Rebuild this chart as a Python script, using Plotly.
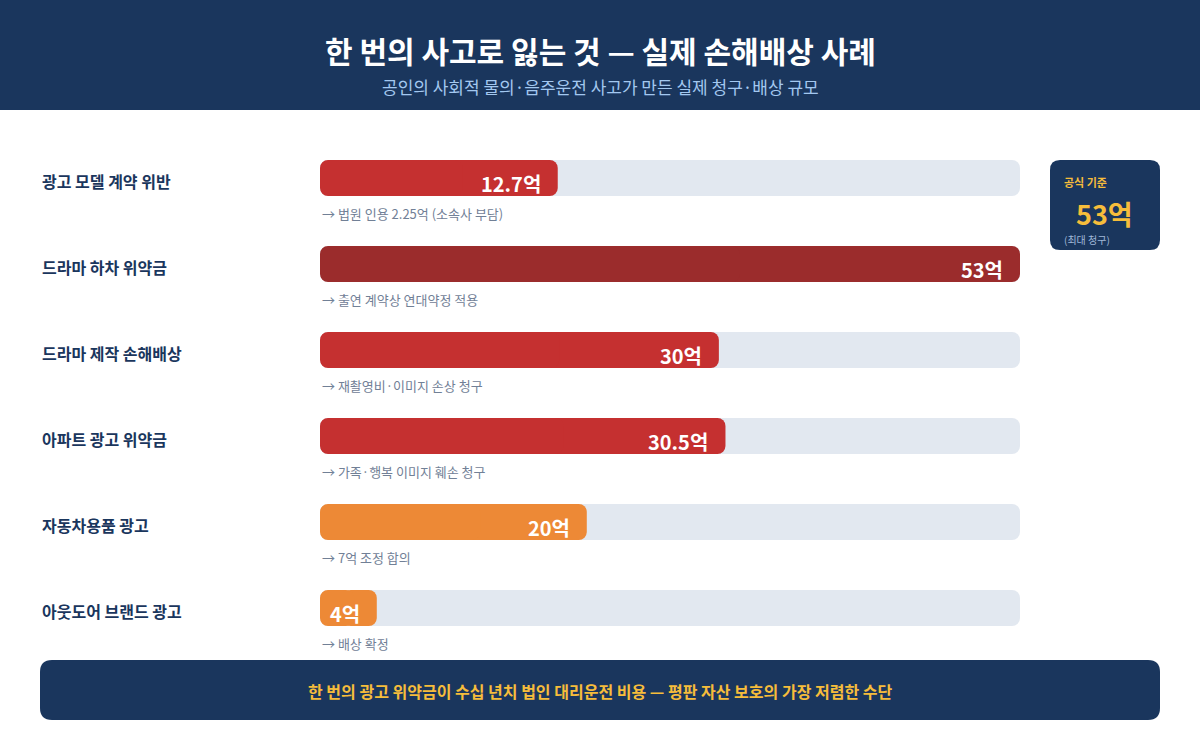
import plotly.graph_objects as go

# 데이터
categories = ["광고 모델 계약 위반", "드라마 하차 위약금", "드라마 제작 손해배상",
              "아파트 광고 위약금", "자동차용품 광고", "아웃도어 브랜드 광고"]
value_labels = ["12.7", "53", "30", "30.5", "20", "4"]
bar_lengths = [18.0, 53, 30.2, 30.7, 20.2, 4.3]   # 그림상 막대 길이 (억)
notes = ["→ 법원 인용 2.25억 (소속사 부담)", "→ 출연 계약상 연대약정 적용",
         "→ 재촬영비·이미지 손상 청구", "→ 가족·행복 이미지 훼손 청구",
         "→ 7억 조정 합의", "→ 배상 확정"]
bar_colors = ["#c53030", "#9b2c2c", "#c53030", "#c53030", "#ed8936", "#ed8936"]
max_value = 53

NAVY = "#1a365d"
GOLD = "#f6bd3b"
FONT = "Noto Sans CJK KR"
W, H = 1200, 750

rows = list(range(len(categories)))


def px(x):
    return x / W


def py(y):
    return 1 - y / H


def rounded_rect(x0, y0, x1, y1, r):
    """종이 좌표 기준 둥근 사각형 path (픽셀 입력)"""
    rx, ry = r / W, r / H
    a, b, c, d = px(x0), px(x1), py(y0), py(y1)
    return (f"M {a + rx},{c} L {b - rx},{c} Q {b},{c} {b},{c - ry} "
            f"L {b},{d + ry} Q {b},{d} {b - rx},{d} L {a + rx},{d} "
            f"Q {a},{d} {a},{d + ry} L {a},{c - ry} Q {a},{c} {a + rx},{c} Z")


def paper_text(x, y, text, size, color, bold=False, xanchor="center"):
    return dict(x=px(x), y=py(y), xref="paper", yref="paper", showarrow=False,
                xanchor=xanchor, yanchor="middle", text=text,
                font=dict(family=FONT, size=size, color=color,
                          weight="bold" if bold else "normal"))


fig = go.Figure()


# 배경 트랙 + 값 막대: 양 끝을 둥글게 하려고 반씩 나눠 그린다
def add_rounded_bars(lengths, colors):
    fig.add_trace(go.Bar(
        y=rows, x=[v * 0.6 for v in lengths], base=[v * 0.4 for v in lengths],
        orientation="h", width=0.42, marker=dict(color=colors, cornerradius=8, line=dict(width=0)),
        hoverinfo="skip", showlegend=False))
    fig.add_trace(go.Bar(
        y=rows, x=[-v * 0.6 for v in lengths], base=[v * 0.6 for v in lengths],
        orientation="h", width=0.42, marker=dict(color=colors, cornerradius=8, line=dict(width=0)),
        hoverinfo="skip", showlegend=False))


add_rounded_bars([max_value] * len(rows), ["#e2e8f0"] * len(rows))
add_rounded_bars(bar_lengths, bar_colors)

annotations = []
for i, cat in enumerate(categories):
    annotations.append(dict(
        x=px(40), xref="paper", y=i, yref="y", text=cat, showarrow=False,
        xanchor="left", yanchor="middle", yshift=-3,
        font=dict(family=FONT, size=16, color=NAVY, weight="bold")))
    annotations.append(dict(
        x=0, xref="x", y=i + 0.41, yref="y", text=notes[i], showarrow=False,
        xanchor="left", yanchor="middle",
        font=dict(family=FONT, size=13, color="#718096")))
    annotations.append(dict(
        x=bar_lengths[i], xref="x", y=i, yref="y", text=value_labels[i] + "억",
        showarrow=False, xanchor="right", yanchor="middle", xshift=-15, yshift=-5,
        font=dict(family=FONT, size=20, color="white", weight="bold")))

annotations += [
    # 제목
    paper_text(600, 50, "한 번의 사고로 잃는 것 — 실제 손해배상 사례", 30, "white", bold=True),
    paper_text(600, 86, "공인의 사회적 물의·음주운전 사고가 만든 실제 청구·배상 규모", 17, "#a3c8f0"),
    # 오른쪽 박스
    paper_text(1062, 182, "공식 기준", 11, GOLD, bold=True, xanchor="left"),
    paper_text(1104, 213, value_labels[1] + "억", 27, GOLD, bold=True),
    paper_text(1062, 239, "(최대 청구)", 10, "#a0b8d8", xanchor="left"),
    # 하단 문구
    paper_text(600, 691, "한 번의 광고 위약금이 수십 년치 법인 대리운전 비용 — 평판 자산 보호의 가장 저렴한 수단",
               16, GOLD, bold=True),
]

shapes = [
    dict(type="rect", xref="paper", yref="paper", x0=0, x1=1, y0=py(110), y1=1,
         fillcolor=NAVY, line=dict(width=0), layer="below"),
    dict(type="path", xref="paper", yref="paper", path=rounded_rect(1050, 160, 1160, 250, 10),
         fillcolor=NAVY, line=dict(width=0)),
    dict(type="path", xref="paper", yref="paper", path=rounded_rect(40, 660, 1160, 720, 12),
         fillcolor=NAVY, line=dict(width=0)),
]

# y 축: 행 중심 178px, 간격 86px
top_val = (0 - 178) / 86
bottom_val = (H - 178) / 86

fig.update_layout(
    width=W, height=H,
    margin=dict(l=0, r=0, t=0, b=0),
    paper_bgcolor="white", plot_bgcolor="white",
    barmode="overlay",
    xaxis=dict(range=[0, max_value], domain=[px(320), px(1020)], visible=False, fixedrange=True),
    yaxis=dict(range=[bottom_val, top_val], domain=[0, 1], visible=False, fixedrange=True),
    annotations=annotations,
    shapes=shapes,
    font=dict(family=FONT),
)

fig.write_html("out.html", config={"displayModeBar": False},
               post_script="document.body.style.margin='0';")
